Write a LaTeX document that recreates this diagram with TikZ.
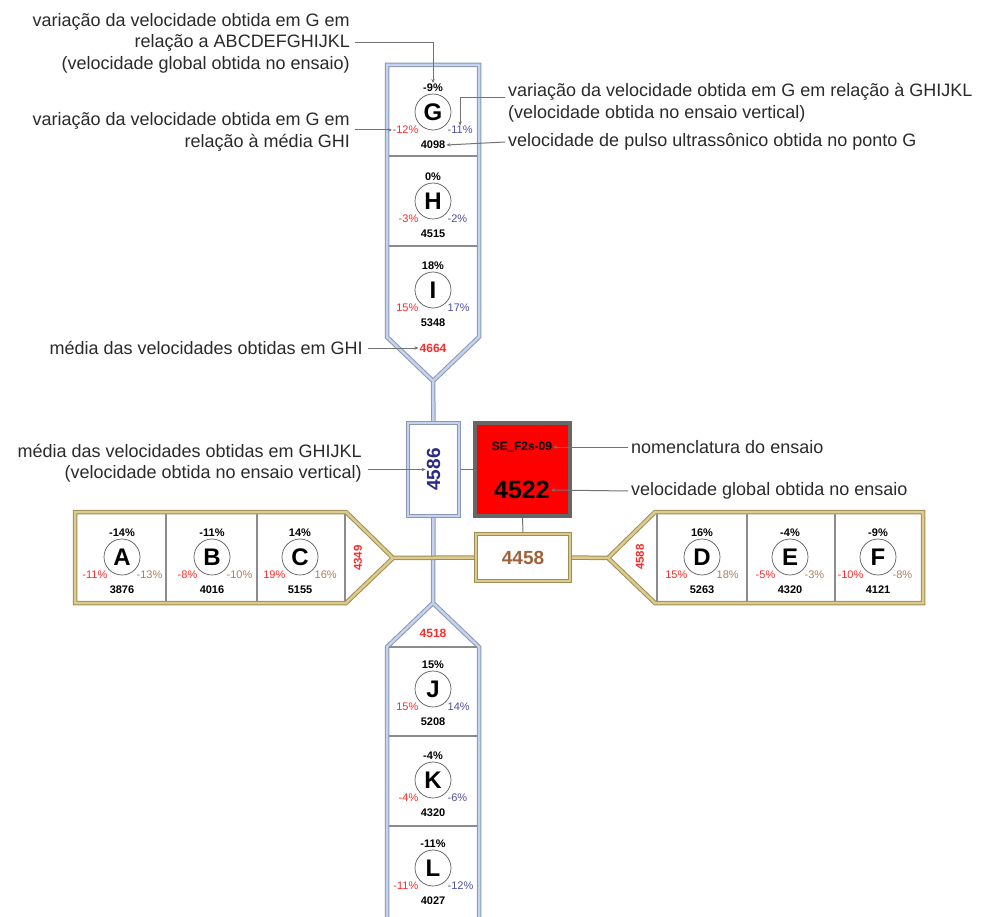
\documentclass[tikz,border=0pt]{standalone}
\usepackage{fontspec}
\setmainfont{Liberation Sans}
\newfontfamily\undfont{DejaVu Sans}
\usetikzlibrary{arrows.meta,calc}
\definecolor{bedge}{HTML}{8A97B2}
\definecolor{bfill}{HTML}{C6D3EE}
\definecolor{gedge}{HTML}{A08C55}
\definecolor{gfill}{HTML}{DCCB8E}
\definecolor{pred}{HTML}{FF2A2A}
\definecolor{pblue}{HTML}{4F4FA0}
\definecolor{pbrown}{HTML}{AE7F5E}
\definecolor{navy}{HTML}{2B2B85}
\definecolor{vbrown}{HTML}{A0623A}
\definecolor{txtgray}{HTML}{2A2A2A}
\newcommand\ptcell[8]{%
\node[ptc] (#1) at (#2,#3) {#1};
\node[pctt] (#1t) at (#2,#3-24) {#4};
\node[pctl] (#1l) at (#2-14,#3+18) {#5};
\node[pctr,text=#8] (#1r) at (#2+14,#3+18) {#6};
\node[val] (#1v) at (#2,#3+33) {#7};}
\begin{document}
\begin{tikzpicture}[x=1pt,y=-1pt,
  bluearm/.style={draw=bedge, double=bfill, double distance=2.5pt, line width=1pt},
  goldarm/.style={draw=gedge, double=gfill, double distance=2.5pt, line width=1pt},
  sep/.style={draw=black!45, line width=1.2pt},
  ptc/.style={circle, draw=black!65, line width=0.7pt, minimum size=36pt, inner sep=0pt, font=\fontsize{24}{24}\selectfont\bfseries},
  pctt/.style={font=\fontsize{11}{11}\selectfont\bfseries, inner sep=1pt},
  pctl/.style={font=\fontsize{11}{11}\selectfont, text=pred, anchor=east, inner sep=0.5pt, fill=white},
  pctr/.style={font=\fontsize{11}{11}\selectfont, anchor=west, inner sep=0.5pt, fill=white},
  val/.style={font=\fontsize{11}{11}\selectfont\bfseries, inner sep=1pt},
  redval/.style={font=\fontsize{12}{12}\selectfont\bfseries, text=pred, inner sep=1pt},
  lbl/.style={font=\fontsize{18}{21.5}\selectfont, text=txtgray, inner sep=0pt},
  conn/.style={draw=black!55, line width=1pt},
  tip/.style={-{Stealth[length=4pt,width=3.5pt]}}]
\useasboundingbox (0,0) rectangle (985,917);
\begin{scope}
\clip (0,0) rectangle (985,917);
% upper vertical arm
\draw[bluearm] (433,381) -- (387,337) -- (387,65) -- (479,65) -- (479,337) -- cycle;
\draw[sep] (389,156) -- (477,156);
\draw[sep] (389,246) -- (477,246);
% lower vertical arm
\draw[bluearm] (387,935) -- (387,647) -- (433,603) -- (479,647) -- (479,935);
\draw[sep] (389,647) -- (477,647);
\draw[sep] (389,736) -- (477,736);
\draw[sep] (389,826) -- (477,826);
% left arm
\draw[goldarm] (75,512) -- (346,512) -- (393,558) -- (346,603) -- (75,603) -- cycle;
\draw[sep] (166,514) -- (166,601);
\draw[sep] (257,514) -- (257,601);
\draw[sep] (345,514) -- (345,601);
% right arm
\draw[goldarm] (923,512) -- (655,512) -- (608,558) -- (655,603) -- (923,603) -- cycle;
\draw[sep] (657,514) -- (657,601);
\draw[sep] (747,514) -- (747,601);
\draw[sep] (835,514) -- (835,601);
\end{scope}
\coordinate (gtip) at (433,381);
\coordinate (jtip) at (433,603);
\coordinate (atip) at (393,558);
\coordinate (dtip) at (608,558);
% central boxes (for anchors)
\path (433.5,469.5) node[minimum width=51pt, minimum height=93pt, inner sep=0pt] (vbox) {};
\path (522.5,469.5) node[minimum width=95pt, minimum height=93pt, inner sep=0pt] (rbox) {};
\path (523,557.5) node[minimum width=94pt, minimum height=47pt, inner sep=0pt] (gbox) {};
% stems
\draw[bluearm] (gtip) -- (vbox.north);
\draw[bluearm] (vbox.south) -- (jtip);
\draw[goldarm] (atip) -- (gbox.west);
\draw[goldarm] (gbox.east) -- (dtip);
\draw[conn] (vbox.east) -- (rbox.west);
\draw[conn] (rbox.south) -- (gbox.north);
% boxes drawn
\draw[bluearm, fill=white] (vbox.south west) rectangle (vbox.north east);
\draw[draw=black!60, line width=4.5pt, fill=red] (rbox.south west) rectangle (rbox.north east);
\draw[goldarm, fill=white] (gbox.south west) rectangle (gbox.north east);
\node[rotate=90, font=\fontsize{19}{19}\selectfont\bfseries, text=navy, inner sep=1pt] (vtext) at (vbox.center) {4586};
\node[font=\fontsize{12}{12}\selectfont\bfseries, inner sep=1pt] (se) at (522,447) {SE{\undfont\bfseries\raisebox{1.5pt}{\_}}F2s-09};
\node[font=\fontsize{25}{25}\selectfont\bfseries, inner sep=1pt] (v4522) at (522,490) {4522};
\node[font=\fontsize{19}{19}\selectfont\bfseries, text=vbrown, inner sep=1pt] (v4458) at (gbox.center) {4458};
% cells
\ptcell{G}{433}{112}{-9\%}{-12\%}{-11\%}{4098}{pblue}
\ptcell{H}{433}{201}{0\%}{-3\%}{-2\%}{4515}{pblue}
\ptcell{I}{433}{290}{18\%}{15\%}{17\%}{5348}{pblue}
\ptcell{J}{433}{689}{15\%}{15\%}{14\%}{5208}{pblue}
\ptcell{K}{433}{780}{-4\%}{-4\%}{-6\%}{4320}{pblue}
\ptcell{L}{433}{868}{-11\%}{-11\%}{-12\%}{4027}{pblue}
\ptcell{A}{122}{557}{-14\%}{-11\%}{-13\%}{3876}{pbrown}
\ptcell{B}{212}{557}{-11\%}{-8\%}{-10\%}{4016}{pbrown}
\ptcell{C}{300}{557}{14\%}{19\%}{16\%}{5155}{pbrown}
\ptcell{D}{702}{557}{16\%}{15\%}{18\%}{5263}{pbrown}
\ptcell{E}{790}{557}{-4\%}{-5\%}{-3\%}{4320}{pbrown}
\ptcell{F}{878}{557}{-9\%}{-10\%}{-8\%}{4121}{pbrown}
% averages
\node[redval] (r4664) at (433,348) {4664};
\node[redval] (r4518) at (433,633) {4518};
\node[redval, rotate=90, font=\fontsize{11.5}{11.5}\selectfont\bfseries] (r4349) at (358,558) {4349};
\node[redval, rotate=90, font=\fontsize{11.5}{11.5}\selectfont\bfseries] (r4588) at (640,557) {4588};
% labels left
\node[lbl, align=right, anchor=east] (L1) at (350,43) {variação da velocidade obtida em G em\\relação a ABCDEFGHIJKL\\(velocidade global obtida no ensaio)};
\node[lbl, align=right, anchor=east] (L2) at (350,132) {variação da velocidade obtida em G em\\relação à média GHI};
\node[lbl, anchor=east] (L3) at (363,348) {média das velocidades obtidas em GHI};
\node[lbl, align=right, anchor=east] (L4) at (362,463) {média das velocidades obtidas em GHIJKL\\(velocidade obtida no ensaio vertical)};
% labels right
\node[lbl, align=left, anchor=west] (R1) at (508,102.5) {variação da velocidade obtida em G em relação à GHIJKL\\(velocidade obtida no ensaio vertical)};
\node[lbl, anchor=west] (R2) at (508,142) {velocidade de pulso ultrassônico obtida no ponto G};
\node[lbl, anchor=west] (R3) at (631,447) {nomenclatura do ensaio};
\node[lbl, anchor=west] (R4) at (631,491) {velocidade global obtida no ensaio};
% connectors
\draw[conn, tip] ([xshift=5pt]L1.east) -| (Gt.north);
\draw[conn, tip] ([xshift=5pt]L2.east |- Gl.west) -- (Gl.west);
\draw[conn, tip] ([xshift=5pt]L3.east) -- (r4664.west);
\draw[conn, tip] ([xshift=6pt]L4.east |- vtext.north) -- (vtext.north);
\draw[conn, tip] ($(R1.west)+(-3,-5)$) -| (Gr.north);
\draw[conn, tip] ([xshift=-3pt]R2.west) -- (Gv.east);
\draw[conn, tip] ([xshift=-3pt]R3.west) -- (se.east);
\draw[conn, tip] ([xshift=-3pt]R4.west) -- (v4522.east);
\end{tikzpicture}
\end{document}
